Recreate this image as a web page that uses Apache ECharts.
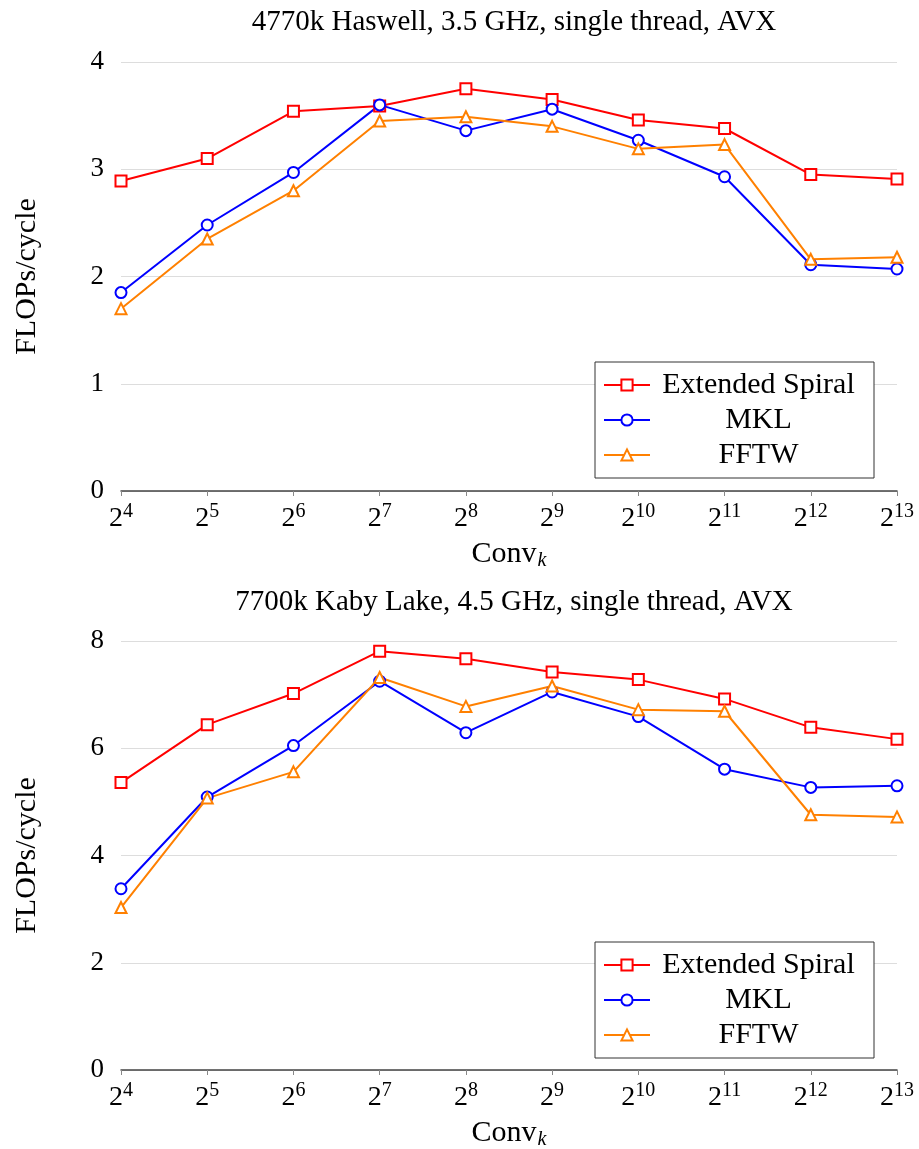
<!DOCTYPE html>
<html>
<head>
<meta charset="utf-8">
<script src="https://cdn.jsdelivr.net/npm/echarts@6/dist/echarts.min.js"></script>
<style>
html,body{margin:0;padding:0;background:#fff;}
#c{width:919px;height:1149px;}
</style>
</head>
<body>
<div id="c"></div>
<script>
// exponents k for Conv_{2^k}
const exponents = [4, 5, 6, 7, 8, 9, 10, 11, 12, 13];
const seriesNames = ['Extended Spiral', 'MKL', 'FFTW'];
const titles = ['4770k Haswell, 3.5 GHz, single thread, AVX', '7700k Kaby Lake, 4.5 GHz, single thread, AVX'];

// Haswell
const haswellSpiral = [2.89, 3.10, 3.54, 3.59, 3.75, 3.65, 3.46, 3.38, 2.95, 2.91];
const haswellMKL    = [1.85, 2.48, 2.97, 3.60, 3.36, 3.56, 3.27, 2.93, 2.11, 2.07];
const haswellFFTW   = [1.70, 2.35, 2.80, 3.45, 3.49, 3.40, 3.19, 3.23, 2.16, 2.18];

// Kaby Lake
const kabySpiral = [5.36, 6.44, 7.02, 7.81, 7.67, 7.42, 7.28, 6.92, 6.39, 6.17];
const kabyMKL    = [3.38, 5.09, 6.05, 7.25, 6.29, 7.05, 6.59, 5.61, 5.27, 5.30];
const kabyFFTW   = [3.03, 5.07, 5.56, 7.32, 6.78, 7.16, 6.72, 6.69, 4.76, 4.72];

const yTicksTop = {min: 0, max: 4, interval: 1};
const yTicksBottom = {min: 0, max: 8, interval: 2};

const FONT = 'Liberation Serif';
const colors = ['#ff0000', '#0000ff', '#ff8000'];
const symbols = ['emptyRect', 'emptyCircle', 'emptyTriangle'];

const grids = [
  {left: 121, width: 776, top: 62, height: 429, outerBoundsMode: 'none', containLabel: false},
  {left: 121, width: 776, top: 641, height: 429, outerBoundsMode: 'none', containLabel: false}
];

function xAxis(gi) {
  return {
    type: 'category', gridIndex: gi, data: exponents, boundaryGap: false,
    axisLine: {lineStyle: {color: '#444', width: 1.5}},
    axisTick: {show: true, length: 5, lineStyle: {color: '#888'}},
    axisLabel: {
      margin: 11,
      formatter: v => '{b|2}{s|' + v + '}',
      rich: {
        b: {fontFamily: FONT, fontSize: 28, color: '#000', verticalAlign: 'bottom'},
        s: {fontFamily: FONT, fontSize: 20, color: '#000', verticalAlign: 'top', padding: [0, 0, 11, 0]}
      }
    },
    name: '{b|Conv}{k|k}',
    nameLocation: 'middle', nameGap: 46,
    nameTextStyle: {
      rich: {
        b: {fontFamily: FONT, fontSize: 30, color: '#000'},
        k: {fontFamily: FONT, fontSize: 20, fontStyle: 'italic', color: '#000', padding: [14, 0, 0, 1]}
      }
    },
    splitLine: {show: false}
  };
}
function yAxis(gi, t) {
  return {
    type: 'value', gridIndex: gi, min: t.min, max: t.max, interval: t.interval,
    axisLine: {show: false}, axisTick: {show: false},
    axisLabel: {fontFamily: FONT, fontSize: 27, color: '#000', margin: 17},
    splitLine: {lineStyle: {color: '#dddddd', width: 1}},
    name: 'FLOPs/cycle', nameLocation: 'middle', nameGap: 79, nameRotate: 90,
    nameTextStyle: {fontFamily: FONT, fontSize: 30, color: '#000'}
  };
}
function mk(name, data, idx, gi) {
  return {
    name: name, type: 'line', data: data, xAxisIndex: gi, yAxisIndex: gi,
    symbol: symbols[idx], symbolSize: 11, showSymbol: true,
    color: colors[idx],
    lineStyle: {color: colors[idx], width: 2},
    itemStyle: {color: colors[idx], borderWidth: 2},
    animation: false
  };
}
function legend(top) {
  return {
    orient: 'vertical', left: 595, top: top,
    backgroundColor: '#fff', borderColor: '#333', borderWidth: 1,
    padding: [8, 12, 8, 8], itemGap: 5, itemWidth: 46, itemHeight: 14,
    data: seriesNames,
    formatter: n => '{c|' + n + '}',
    textStyle: {
      fontFamily: FONT, fontSize: 30, width: 207, lineHeight: 28,
      rich: {c: {fontFamily: FONT, fontSize: 30, color: '#000', width: 207, lineHeight: 28, align: 'center'}}
    }
  };
}

const chart = echarts.init(document.getElementById('c'), null, {renderer: 'canvas'});
chart.setOption({
  animation: false,
  backgroundColor: '#fff',
  title: [
    {text: titles[0], left: 509, textAlign: 'center', top: 3, textStyle: {fontFamily: FONT, fontSize: 29, fontWeight: 'normal', color: '#000'}},
    {text: titles[1], left: 509, textAlign: 'center', top: 583, textStyle: {fontFamily: FONT, fontSize: 29, fontWeight: 'normal', color: '#000'}}
  ],
  grid: grids,
  xAxis: [xAxis(0), xAxis(1)],
  yAxis: [yAxis(0, yTicksTop), yAxis(1, yTicksBottom)],
  legend: [legend(362), legend(942)],
  series: [
    mk(seriesNames[0], haswellSpiral, 0, 0),
    mk(seriesNames[1], haswellMKL, 1, 0),
    mk(seriesNames[2], haswellFFTW, 2, 0),
    mk(seriesNames[0], kabySpiral, 0, 1),
    mk(seriesNames[1], kabyMKL, 1, 1),
    mk(seriesNames[2], kabyFFTW, 2, 1)
  ]
});
</script>
</body>
</html>
